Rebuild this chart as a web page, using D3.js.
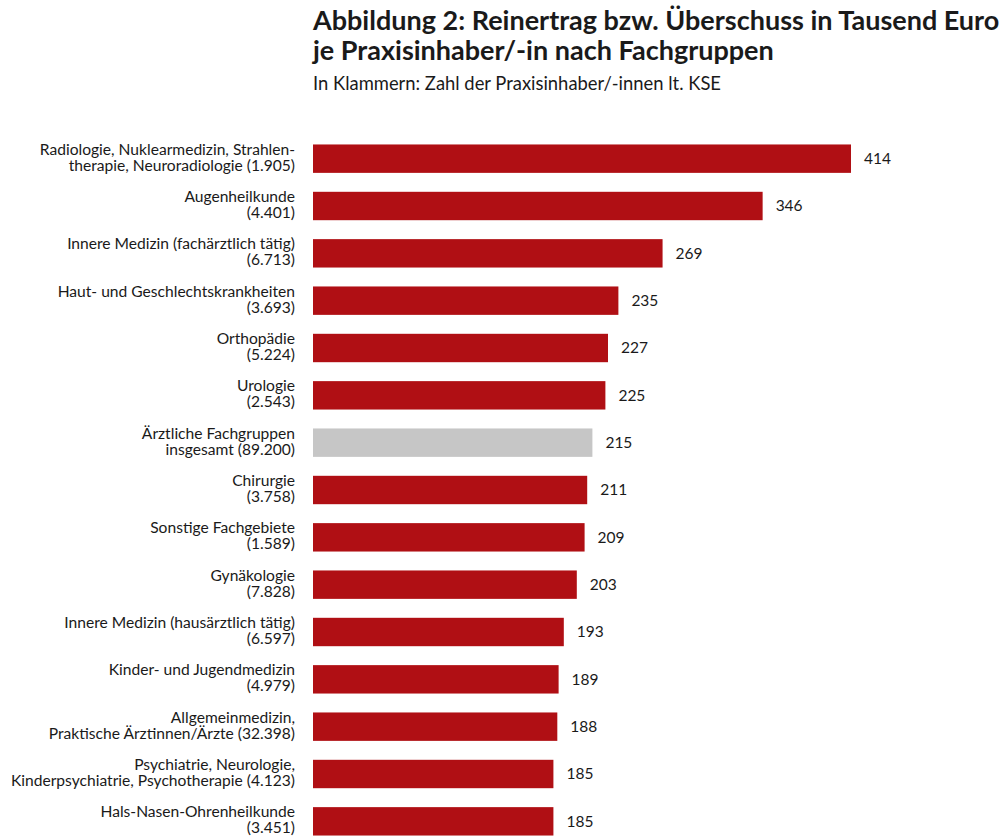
<!DOCTYPE html>
<html>
<head>
<meta charset="utf-8">
<script src="https://cdn.jsdelivr.net/npm/d3@7"></script>
<style>
  body { margin: 0; background: #fff; }
  text { font-family: Lato, 'Open Sans', sans-serif; fill: #1a1a1a; }
</style>
</head>
<body>
<div id="chart"></div>
<script>
// Fachgruppen (label lines), values in thousand euro
var groupLines = [
  ['Radiologie, Nuklearmedizin, Strahlen-', 'therapie, Neuroradiologie (1.905)'],
  ['Augenheilkunde', '(4.401)'],
  ['Innere Medizin (fachärztlich tätig)', '(6.713)'],
  ['Haut- und Geschlechtskrankheiten', '(3.693)'],
  ['Orthopädie', '(5.224)'],
  ['Urologie', '(2.543)'],
  ['Ärztliche Fachgruppen', 'insgesamt (89.200)'],
  ['Chirurgie', '(3.758)'],
  ['Sonstige Fachgebiete', '(1.589)'],
  ['Gynäkologie', '(7.828)'],
  ['Innere Medizin (hausärztlich tätig)', '(6.597)'],
  ['Kinder- und Jugendmedizin', '(4.979)'],
  ['Allgemeinmedizin,', 'Praktische Ärztinnen/Ärzte (32.398)'],
  ['Psychiatrie, Neurologie,', 'Kinderpsychiatrie, Psychotherapie (4.123)'],
  ['Hals-Nasen-Ohrenheilkunde', '(3.451)']
]
var values = [414, 346, 269, 235, 227, 225, 215, 211, 209, 203, 193, 189, 188, 185, 185]
var totalIndex = 6

var data = values.map((v, i) => ({ lines: groupLines[i], value: v, total: i === totalIndex }))

var svg = d3.select('#chart')
  .append('svg')
  .attr('width', 1007)
  .attr('height', 836)

var left = 313
var xScale = d3.scaleLinear().domain([0, 414]).range([left, 851])
var yScale = d3.scaleBand()
  .domain(d3.range(data.length))
  .range([135, 845])
  .paddingInner(0.4)
  .paddingOuter(0.2)

// Title
svg.append('text')
  .attr('x', left).attr('y', 30)
  .attr('font-size', 27).attr('font-weight', 'bold')
  .text('Abbildung 2: Reinertrag bzw. Überschuss in Tausend Euro')
svg.append('text')
  .attr('x', left).attr('y', 60)
  .attr('font-size', 27).attr('font-weight', 'bold')
  .text('je Praxisinhaber/-in nach Fachgruppen')
svg.append('text')
  .attr('x', left).attr('y', 90)
  .attr('font-size', 18.4)
  .text('In Klammern: Zahl der Praxisinhaber/-innen lt. KSE')

var rows = svg.selectAll('.row')
  .data(data)
  .enter()
  .append('g')
  .attr('class', 'row')

rows.append('rect')
  .attr('x', xScale(0))
  .attr('y', (d, i) => yScale(i))
  .attr('width', d => xScale(d.value) - xScale(0))
  .attr('height', yScale.bandwidth())
  .attr('fill', d => d.total ? '#c6c6c6' : '#b00f14')

rows.append('text')
  .attr('x', d => xScale(d.value) + 13)
  .attr('y', (d, i) => yScale(i) + yScale.bandwidth() / 2)
  .attr('dy', '0.35em')
  .attr('font-size', 15.5)
  .text(d => d.value)

rows.each(function(d, i) {
  var g = d3.select(this)
  var cy = yScale(i) + yScale.bandwidth() / 2 - 1.5
  g.selectAll('.lab')
    .data(d.lines)
    .enter()
    .append('text')
    .attr('class', 'lab')
    .attr('x', 295)
    .attr('y', (t, j) => cy + (j - 0.5) * 16)
    .attr('dy', '0.35em')
    .attr('text-anchor', 'end')
    .attr('font-size', 15.6)
    .text(t => t)
})
</script>
</body>
</html>
